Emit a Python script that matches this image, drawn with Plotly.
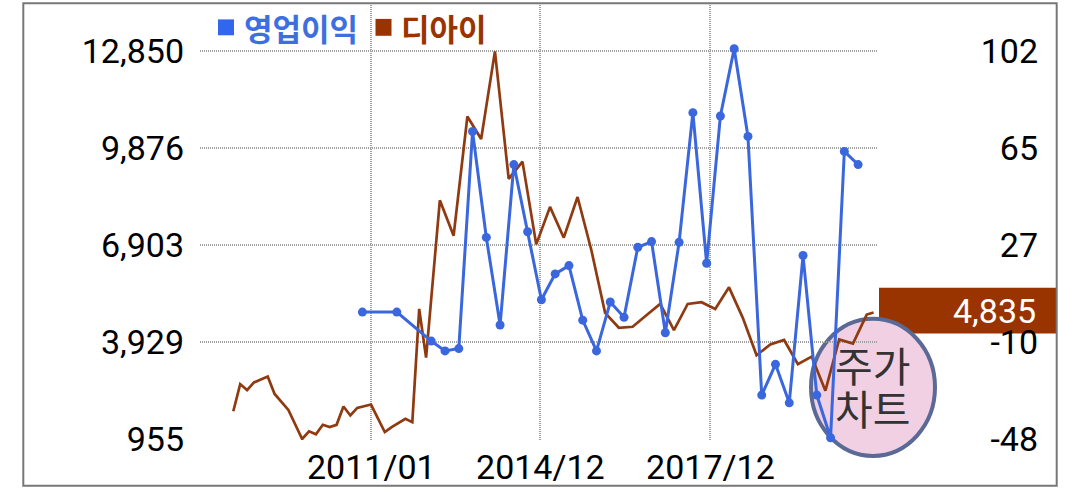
import plotly.graph_objects as go

# ---------------- data ----------------
# x positions are period indices (half-quarter steps) along the category-like axis
price_idx = [0, 1, 2, 3, 5, 6, 8, 10, 11, 12, 13, 14, 15, 16, 17, 18, 20, 22, 23, 25,
             26, 27, 28, 30, 32, 34, 36, 38, 40, 42, 44, 46, 48, 50, 52, 54, 56, 58,
             60, 62, 64, 66, 68, 70, 72, 74, 76, 78, 80, 82, 84, 86, 88, 90, 92, 93]
price_val = [1808, 2640, 2458, 2692, 2875, 2336, 1848, 955, 1190, 1098, 1391, 1321,
             1391, 1952, 1677, 1909, 2013, 1168, 1321, 1574, 1473, 4948, 3454, 8279,
             7194, 10851, 10159, 12850, 8940, 9467, 6928, 8077, 7133, 8382, 6755,
             4826, 4368, 4399, 4755, 5100, 4298, 5100, 5152, 4947, 5609, 4673, 3524,
             3859, 3994, 3250, 3485, 2439, 4012, 3881, 4774, 4835]

profit_idx = [18.75, 23.75, 28.75, 30.75, 32.75, 34.75, 36.75, 38.75, 40.75, 42.75,
              44.75, 46.75, 48.75, 50.75, 52.75, 54.75, 56.75, 58.75, 60.75, 62.75,
              64.75, 66.75, 68.75, 70.75, 72.75, 74.75, 76.75, 78.75, 80.75, 82.75,
              84.75, 86.75, 88.75, 90.75]
profit_val = [1.1, 1.1, -10.1, -13.9, -13.0, 71.0, 30.0, -3.9, 58.2, 32.2,
              5.9, 15.9, 19.1, -2.0, -13.9, 5.0, -0.9, 26.2, 28.4, -6.9,
              28.1, 78.3, 20.0, 77.0, 103.0, 69.1, -31.0, -19.1, -34.0, 23.0,
              -31.0, -47.5, 63.3, 58.2]

x_tick_pos = [20.05, 44.6, 69.3]
x_tick_text = ["2011/01", "2014/12", "2017/12"]

left_ticks = [955, 3929, 6903, 9876, 12850]
right_ticks = [-48, -10.5, 27, 64.5, 102]
right_tick_text = ["-48", "-10", "27", "65", "102"]

series_names = ["영업이익", "디아이"]
badge_title = ["주가", "차트"]

# ---------------- styling ----------------
BLUE = "#3a67dd"
BLUE_TXT = "#3d6fe0"
BLUE_SQ = "#3366ee"
BROWN = "#8f3a10"
BROWN_SQ = "#993300"
GRID = "#a0a0a0"
TICKFONT = dict(family="Roboto", size=34, color="#000000")

W, H = 1080, 492
L, R, T, B = 200, 40, 5, 49
PW = W - L - R          # paper width in px
PH = H - T - B          # paper height in px
PLOT_RIGHT = 878


def px(xp):
    return (xp - L) / PW


def py(yp):
    return (H - B - yp) / PH


fig = go.Figure()

fig.add_trace(go.Scatter(
    x=price_idx, y=price_val, mode="lines", name=series_names[1],
    line=dict(color=BROWN, width=2.7), yaxis="y", cliponaxis=False,
    showlegend=False, hoverinfo="skip"))

fig.add_trace(go.Scatter(
    x=profit_idx, y=profit_val, mode="lines+markers", name=series_names[0],
    line=dict(color=BLUE, width=3), marker=dict(color=BLUE, size=9),
    yaxis="y2", cliponaxis=False, showlegend=False, hoverinfo="skip"))

# axis ranges (pixel-calibrated from reference gridline positions)
left_per_px = (left_ticks[-1] - left_ticks[0]) / 390.3
right_per_px = (right_ticks[-1] - right_ticks[0]) / 390.3
y_bottom_px, y_top_px = 443, 5
left_range = [left_ticks[0] - (y_bottom_px - 442) * left_per_px,
              left_ticks[0] + (442 - y_top_px) * left_per_px]
right_range = [right_ticks[0] - (y_bottom_px - 442) * right_per_px,
               right_ticks[0] + (442 - y_top_px) * right_per_px]

x_unit = 6.885
x_origin_px = 233.3
x_range = [(L - x_origin_px) / x_unit, (PLOT_RIGHT - x_origin_px) / x_unit]

fig.update_layout(
    width=W, height=H,
    margin=dict(l=L, r=R, t=T, b=B),
    paper_bgcolor="white", plot_bgcolor="white",
    showlegend=False,
    xaxis=dict(
        domain=[0, px(PLOT_RIGHT)], range=x_range,
        tickmode="array", tickvals=x_tick_pos, ticktext=x_tick_text,
        showgrid=True, gridcolor=GRID, griddash="1px,1px", gridwidth=2,
        zeroline=False, showline=False, ticks="",
        tickfont=TICKFONT, ticklabelstandoff=4,
    ),
    yaxis=dict(
        range=left_range, tickmode="array", tickvals=left_ticks,
        tickformat=",d",
        showgrid=True, gridcolor=GRID, griddash="1px,1px", gridwidth=2,
        zeroline=False, showline=False, ticks="",
        tickfont=TICKFONT, ticklabelstandoff=15,
    ),
    yaxis2=dict(
        overlaying="y", anchor="free", position=1, side="left",
        range=right_range, tickmode="array", tickvals=right_ticks,
        ticktext=right_tick_text,
        showgrid=False, zeroline=False, showline=False, ticks="",
        tickfont=TICKFONT, ticklabelstandoff=2,
    ),
)

shapes = []
# outer frame
shapes.append(dict(type="rect", xref="paper", yref="paper",
                   x0=px(23.3), x1=px(1056.7), y0=py(489), y1=py(3.3),
                   line=dict(color="#777777", width=2), fillcolor="rgba(0,0,0,0)",
                   layer="above"))
# legend squares
shapes.append(dict(type="rect", xref="paper", yref="paper",
                   x0=px(218), x1=px(234), y0=py(35.5), y1=py(19.5),
                   line=dict(width=0), fillcolor=BLUE_SQ, layer="above"))
shapes.append(dict(type="rect", xref="paper", yref="paper",
                   x0=px(375.5), x1=px(391.5), y0=py(36), y1=py(19),
                   line=dict(width=0), fillcolor=BROWN_SQ, layer="above"))
# current price badge
shapes.append(dict(type="rect", xref="paper", yref="y",
                   x0=px(879), x1=px(1056.7),
                   ysizemode="pixel", yanchor=price_val[-1], y0=-21, y1=24.7,
                   line=dict(width=0), fillcolor=BROWN_SQ, layer="below"))
# stamp circle
shapes.append(dict(type="circle", xref="paper", yref="paper",
                   x0=px(811), x1=px(935), y0=py(459), y1=py(321),
                   line=dict(color="#5b6996", width=4),
                   fillcolor="#f0d0e2", layer="below"))
fig.update_layout(shapes=shapes)

annotations = [
    dict(xref="paper", yref="paper", x=px(242), y=py(28), xanchor="left",
         yanchor="middle", showarrow=False, text=series_names[0],
         font=dict(family="Noto Sans CJK KR", size=31, color=BLUE_TXT, weight="bold")),
    dict(xref="paper", yref="paper", x=px(399), y=py(28), xanchor="left",
         yanchor="middle", showarrow=False, text=series_names[1],
         font=dict(family="Noto Sans CJK KR", size=31, color=BROWN_SQ, weight="bold")),
    dict(xref="paper", yref="y", x=px(1038), y=price_val[-1], xanchor="right",
         yanchor="middle", yshift=2, showarrow=False, text=f"{price_val[-1]:,}",
         font=dict(family="Roboto", size=34, color="white")),
    dict(xref="paper", yref="paper", x=px(872), y=py(366), xanchor="center",
         yanchor="middle", showarrow=False, text=badge_title[0],
         font=dict(family="Noto Sans CJK KR", size=41, color="#333333")),
    dict(xref="paper", yref="paper", x=px(872), y=py(410), xanchor="center",
         yanchor="middle", showarrow=False, text=badge_title[1],
         font=dict(family="Noto Sans CJK KR", size=41, color="#333333")),
]
fig.update_layout(annotations=annotations)

fig.write_html("out.html",
               config={"displayModeBar": False},
               post_script="document.body.style.margin='0';"
                           "document.body.style.overflow='hidden';")
